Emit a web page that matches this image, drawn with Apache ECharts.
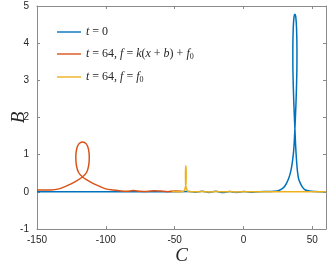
<!DOCTYPE html>
<html><head><meta charset="utf-8">
<script src="https://cdn.jsdelivr.net/npm/echarts@6/dist/echarts.min.js"></script>
<style>html,body{margin:0;padding:0;background:#fff}#c{width:330px;height:266px}</style>
</head><body><div id="c"></div>
<script>
// Series t = 0 : [C, B]
const blueC = [-150,-60,-40,-35,-30,-25,-20,-15,-10,-5,0,5,10,15,20,24.5,28,30.4,32.8,34.5,35.7,36.6,37.4,38.2,38.8,38.9,38.6,38.0,37.4,36.8,36.2,35.9,36.0,36.6,37.4,38.0,38.6,39.2,40.1,41.5,43,45,48,52,60];
const blueB = [0,0,0.01,-0.01,0.015,-0.015,0.015,-0.02,0.01,-0.015,0.01,-0.01,0,0.01,0.01,0.02,0.08,0.17,0.35,0.57,0.84,1.15,1.7,2.4,3.2,3.8,4.4,4.72,4.78,4.72,4.4,3.8,3.2,2.4,1.7,1.2,0.84,0.57,0.35,0.22,0.12,0.05,0.02,0.01,0];
// Series t = 64, f = k(x+b)+f0
const redC = [-150,-140,-134,-128.5,-122.5,-117,-114,-112.5,-112,-112.6,-114.2,-116.9,-119.6,-121.2,-121.8,-121.3,-119.8,-116.9,-111.3,-105.3,-100,-95,-90,-85,-80,-75,-70,-65,-60,-55,-50,-45];
const redB = [0.05,0.05,0.08,0.16,0.27,0.4,0.52,0.7,0.93,1.15,1.29,1.34,1.29,1.15,0.93,0.7,0.52,0.4,0.27,0.16,0.08,0.05,0.03,0.015,0.035,0.015,0.01,0.03,0.02,0.005,0.025,0.015];
// Series t = 64, f = f0
const yelC = [-52,-48,-44,-42.8,-41.8,-41.6,-41.8,-42.1,-42.0,-41.0,-40,-35,-30,-25,-20,-15,-10,-5,0,5,10,20,30,40,50,60];
const yelB = [0.01,0.0,0.01,0.05,0.2,0.5,0.7,0.5,0.2,0.05,0.01,0.0,0.01,-0.005,0.01,0.0,0.01,-0.005,0.005,0,0,0,0,0,0,0];
const xTicks = {min:-150, max:60, interval:50};
const yTicks = {min:-1, max:5, interval:1};

const zip = (a,b)=>a.map((v,i)=>[v,b[i]]);
const chart = echarts.init(document.getElementById('c'), null, {renderer:'canvas'});
const axCol = '#8a8a8a';
const lbl = {color:'#262626', fontSize:10, fontFamily:'Liberation Sans, Arial, sans-serif'};
const serif = 'Liberation Serif, DejaVu Serif, serif';
const rich = {
  i:{fontFamily:serif, fontStyle:'italic', fontSize:12, lineHeight:14, color:'#262626'},
  n:{fontFamily:serif, fontSize:12, lineHeight:14, color:'#262626'},
  s:{fontFamily:serif, fontSize:8, lineHeight:14, color:'#262626', verticalAlign:'bottom'}
};
const names = ['t0','redf','yelf'];
const fmt = {
  t0:'{i|t}{n| = 0}',
  redf:'{i|t}{n| = 64, }{i|f}{n| = }{i|k}{n|(}{i|x}{n| + }{i|b}{n|) + }{i|f}{s|0}',
  yelf:'{i|t}{n| = 64, }{i|f}{n| = }{i|f}{s|0}'
};
const baseX = {type:'value', min:xTicks.min, max:xTicks.max, interval:xTicks.interval,
  axisLine:{show:true, onZero:false, lineStyle:{color:axCol, width:1}}, axisTick:{show:true, inside:true, length:3, lineStyle:{color:axCol}},
  splitLine:{show:false}};
const baseY = {type:'value', min:yTicks.min, max:yTicks.max, interval:yTicks.interval,
  axisLine:{show:true, onZero:false, lineStyle:{color:axCol, width:1}}, axisTick:{show:true, inside:true, length:3, lineStyle:{color:axCol}},
  splitLine:{show:false}};
chart.setOption({
  animation:false,
  grid:{left:37, right:4, top:6, bottom:37, containLabel:false, outerBoundsMode:'none'},
  legend:{show:true, orient:'vertical', left:52, top:21, itemWidth:24, itemHeight:14, itemGap:10, icon:'path://M0,6.3H24V7.7H0Z',
    data:names, formatter:n=>fmt[n], textStyle:{rich:rich}},
  xAxis:[
    Object.assign({}, baseX, {position:'bottom', axisLabel:Object.assign({margin:6, showMaxLabel:false}, lbl),
      name:'C', nameLocation:'middle', nameGap:17, nameMoveOverlap:false, nameTextStyle:{fontFamily:serif, fontStyle:'italic', fontSize:19, color:'#262626'}}),
    Object.assign({}, baseX, {position:'top', axisLabel:{show:false}})
  ],
  yAxis:[
    Object.assign({}, baseY, {position:'left', axisLabel:Object.assign({margin:8}, lbl),
      name:'B', nameLocation:'middle', nameRotate:90, nameGap:9, nameMoveOverlap:false, nameTextStyle:{fontFamily:serif, fontStyle:'italic', fontSize:19, color:'#262626'}}),
    Object.assign({}, baseY, {position:'right', axisLabel:{show:false}})
  ],
  series:[
    {name:'t0', type:'line', data:zip(blueC,blueB), symbol:'none', smooth:0.3, lineStyle:{color:'#0072BD', width:1.5}, itemStyle:{color:'#0072BD'}},
    {name:'redf', type:'line', data:zip(redC,redB), symbol:'none', smooth:0.3, lineStyle:{color:'#D95319', width:1.5}, itemStyle:{color:'#D95319'}},
    {name:'yelf', type:'line', data:zip(yelC,yelB), symbol:'none', smooth:0.3, lineStyle:{color:'#EDB120', width:1.5}, itemStyle:{color:'#EDB120'}}
  ]
});
</script></body></html>
